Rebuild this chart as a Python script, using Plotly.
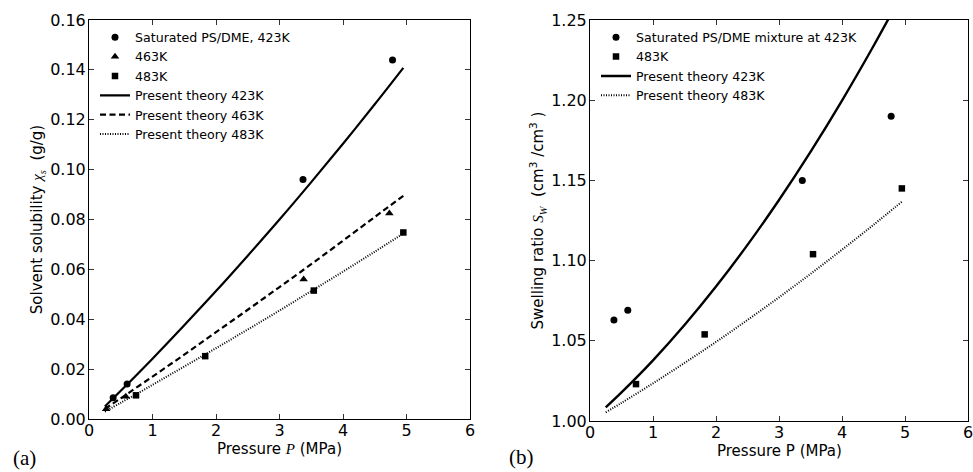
import plotly.graph_objects as go

# ---------------- (a) Solvent solubility ----------------
p423_exp = [0.38, 0.60, 3.37, 4.78]
x423_exp = [0.0085, 0.0140, 0.0960, 0.1440]
p463_exp = [0.27, 0.58, 3.38, 4.73]
x463_exp = [0.0040, 0.0090, 0.0560, 0.0825]
p483_exp = [0.74, 1.83, 3.54, 4.95]
x483_exp = [0.0095, 0.0252, 0.0515, 0.0748]

p_theory = [0.25, 0.5, 1.0, 1.5, 2.0, 2.5, 3.0, 3.5, 4.0, 4.5, 4.95]
x423_th = [0.0050, 0.0113, 0.0242, 0.0376, 0.0513, 0.0655, 0.0800, 0.0950, 0.1104, 0.1262, 0.1408]
x463_th = [0.0040, 0.0083, 0.0170, 0.0258, 0.0348, 0.0438, 0.0529, 0.0621, 0.0715, 0.0810, 0.0895]
x483_th = [0.0030, 0.0065, 0.0137, 0.0210, 0.0284, 0.0359, 0.0435, 0.0513, 0.0591, 0.0671, 0.0744]

# ---------------- (b) Swelling ratio ----------------
p423_sw = [0.38, 0.60, 3.37, 4.78]
s423_sw = [1.063, 1.069, 1.150, 1.190]
p483_sw = [0.73, 1.82, 3.54, 4.95]
s483_sw = [1.023, 1.054, 1.104, 1.145]

s423_th = [1.0085, 1.0178, 1.0378, 1.0598, 1.0838, 1.1098, 1.1378, 1.1678, 1.1998, 1.2338, 1.2661]
s483_th = [1.0054, 1.0113, 1.0235, 1.0362, 1.0493, 1.0630, 1.0771, 1.0917, 1.1068, 1.1223, 1.1367]

x_ticks = [0, 1, 2, 3, 4, 5, 6]
ya_ticks = [0.00, 0.02, 0.04, 0.06, 0.08, 0.10, 0.12, 0.14, 0.16]
yb_ticks = [1.00, 1.05, 1.10, 1.15, 1.20, 1.25]

FONT = "DejaVu Sans"
SERIF = "Liberation Serif"
BLACK = "black"
MS = 7

fig = go.Figure()

# (a) traces
fig.add_trace(go.Scatter(x=p423_exp, y=x423_exp, mode="markers", name="Saturated PS/DME, 423K",
                         marker=dict(symbol="circle", size=MS, color=BLACK), xaxis="x", yaxis="y", legend="legend"))
fig.add_trace(go.Scatter(x=p463_exp, y=x463_exp, mode="markers", name="463K",
                         marker=dict(symbol="triangle-up", size=MS + 0.5, color=BLACK), xaxis="x", yaxis="y", legend="legend"))
fig.add_trace(go.Scatter(x=p483_exp, y=x483_exp, mode="markers", name="483K",
                         marker=dict(symbol="square", size=MS - 0.5, color=BLACK), xaxis="x", yaxis="y", legend="legend"))
fig.add_trace(go.Scatter(x=p_theory, y=x423_th, mode="lines", name="Present theory 423K",
                         line=dict(color=BLACK, width=2.2, shape="spline"), xaxis="x", yaxis="y", legend="legend"))
fig.add_trace(go.Scatter(x=p_theory, y=x463_th, mode="lines", name="Present theory 463K",
                         line=dict(color=BLACK, width=2.2, dash="6px,3.5px", shape="spline"), xaxis="x", yaxis="y", legend="legend"))
fig.add_trace(go.Scatter(x=p_theory, y=x483_th, mode="lines", name="Present theory 483K",
                         line=dict(color=BLACK, width=2, dash="1px,1.5px", shape="spline"), xaxis="x", yaxis="y", legend="legend"))

# (b) traces
fig.add_trace(go.Scatter(x=p423_sw, y=s423_sw, mode="markers", name="Saturated PS/DME mixture at 423K",
                         marker=dict(symbol="circle", size=MS, color=BLACK), xaxis="x2", yaxis="y2", legend="legend2"))
fig.add_trace(go.Scatter(x=p483_sw, y=s483_sw, mode="markers", name="483K",
                         marker=dict(symbol="square", size=MS - 0.5, color=BLACK), xaxis="x2", yaxis="y2", legend="legend2"))
fig.add_trace(go.Scatter(x=p_theory, y=s423_th, mode="lines", name="Present theory 423K",
                         line=dict(color=BLACK, width=2.4, shape="spline"), xaxis="x2", yaxis="y2", legend="legend2"))
fig.add_trace(go.Scatter(x=p_theory, y=s483_th, mode="lines", name="Present theory 483K",
                         line=dict(color=BLACK, width=2, dash="1px,1.5px", shape="spline"), xaxis="x2", yaxis="y2", legend="legend2"))

W, H = 973, 472
def fx(px):
    return px / W
def fy(py):
    return 1 - py / H

axis_common = dict(showline=True, linecolor=BLACK, linewidth=1, mirror="ticks", ticks="inside",
                   ticklen=5, tickwidth=1, tickcolor="#333", showgrid=False, zeroline=False,
                   ticklabeloverflow="allow",
                   tickfont=dict(family=FONT, size=16, color=BLACK), automargin=False)

ITAL = "<span style=\"font-family:'Liberation Serif'\"><i>%s</i></span>"

fig.update_layout(
    width=W, height=H,
    margin=dict(l=0, r=0, t=0, b=0),
    paper_bgcolor="white", plot_bgcolor="white",
    font=dict(family=FONT, color=BLACK),
    xaxis=dict(domain=[fx(89), fx(470)], range=[0, 6], tickvals=x_ticks, anchor="y",
               ticklabelstandoff=-3, **axis_common),
    yaxis=dict(domain=[fy(419), fy(20)], range=[0, 0.16], tickvals=ya_ticks, tickformat=".2f", anchor="x",
               ticklabelstandoff=-1,
               title=dict(text="Solvent solubility " + ITAL % "χ<sub>s</sub>" + "  (g/g)",
                          font=dict(family=FONT, size=15), standoff=3), **axis_common),
    xaxis2=dict(domain=[fx(590), fx(968)], range=[0, 6], tickvals=x_ticks, anchor="y2",
                ticklabelstandoff=-3, **axis_common),
    yaxis2=dict(domain=[fy(421), fy(20)], range=[1.0, 1.25], tickvals=yb_ticks, tickformat=".2f", anchor="x2",
                ticklabelstandoff=-1,
                title=dict(text="Swelling ratio " + ITAL % "S<sub>W</sub>" + "  (cm<sup>3</sup> /cm<sup>3</sup> )",
                           font=dict(family=FONT, size=15), standoff=3), **axis_common),
    legend=dict(x=fx(95), y=fy(22.5), xanchor="left", yanchor="top", bgcolor="rgba(0,0,0,0)",
                font=dict(family=FONT, size=12.6, color=BLACK), borderwidth=0),
    legend2=dict(x=fx(596), y=fy(22.5), xanchor="left", yanchor="top", bgcolor="rgba(0,0,0,0)",
                 font=dict(family=FONT, size=12.6, color=BLACK), borderwidth=0),
    annotations=[
        dict(text="Pressure " + ITAL % "P" + " (MPa)", x=fx(279.5), y=fy(449), xref="paper", yref="paper",
             xanchor="center", yanchor="middle", showarrow=False, font=dict(family=FONT, size=15, color=BLACK)),
        dict(text="Pressure P (MPa)", x=fx(779), y=fy(451), xref="paper", yref="paper",
             xanchor="center", yanchor="middle", showarrow=False, font=dict(family=FONT, size=15, color=BLACK)),
        dict(text="(a)", x=fx(24), y=fy(458), xref="paper", yref="paper", showarrow=False,
             xanchor="center", yanchor="middle", font=dict(family=SERIF, size=21, color=BLACK)),
        dict(text="(b)", x=fx(521), y=fy(457), xref="paper", yref="paper", showarrow=False,
             xanchor="center", yanchor="middle", font=dict(family=SERIF, size=21, color=BLACK)),
    ],
)

fig.write_html("out.html", config={"displayModeBar": False},
               post_script="document.body.style.margin='0';document.body.style.padding='0';")
